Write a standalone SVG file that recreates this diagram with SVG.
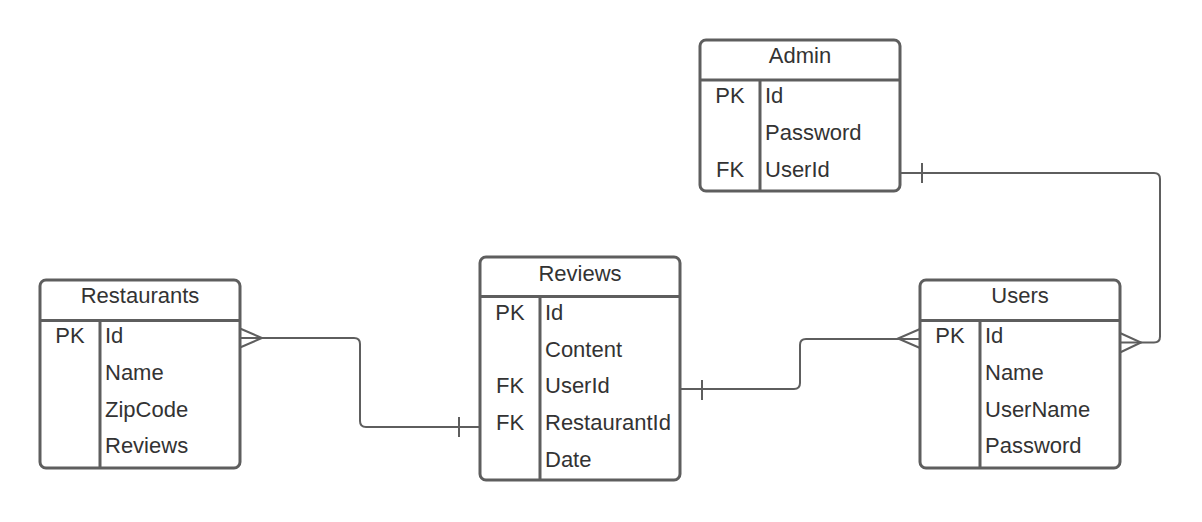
<svg xmlns="http://www.w3.org/2000/svg" width="1202" height="522" viewBox="0 0 1202 522">
<style>
.box{fill:#fff;stroke:#5e5e5e;stroke-width:3}
.ln{fill:none;stroke:#5e5e5e;stroke-width:3}
.cn{fill:none;stroke:#5e5e5e;stroke-width:2}
text{font-family:"Liberation Sans",Arial,sans-serif;font-size:22px;fill:#333}
.t{text-anchor:middle}
.k{text-anchor:middle}
</style>
<rect width="1202" height="522" fill="#fff"/>
<g id="connectors">
  <path class="cn" d="M240,338 H354 Q360,338 360,344 V421 Q360,427 366,427 H480"/>
  <path class="cn" d="M240,328.5 L262,338 L240,347.5"/>
  <path class="cn" d="M459,417 V437"/>
  <path class="cn" d="M680,389 H794 Q800,389 800,383 V345 Q800,339 806,339 H920"/>
  <path class="cn" d="M702,380 V400"/>
  <path class="cn" d="M920,329 L898,338.5 L920,348"/>
  <path class="cn" d="M900,173 H1154 Q1160,173 1160,179 V336.5 Q1160,342.5 1154,342.5 H1120"/>
  <path class="cn" d="M922,163 V183"/>
  <path class="cn" d="M1120,333 L1141,342.5 L1120,352.5"/>
</g>
<g id="admin">
  <rect class="box" x="700" y="40" width="200" height="151" rx="6"/>
  <path class="ln" d="M700,80 H900 M760,80 V191"/>
  <text class="t" x="800" y="63">Admin</text>
  <text class="k" x="730" y="103">PK</text>
  <text x="765" y="103">Id</text>
  <text x="765" y="140">Password</text>
  <text class="k" x="730" y="177">FK</text>
  <text x="765" y="177">UserId</text>
</g>
<g id="restaurants">
  <rect class="box" x="40" y="280" width="200" height="188" rx="6"/>
  <path class="ln" d="M40,320.5 H240 M100,320.5 V468"/>
  <text class="t" x="140" y="303">Restaurants</text>
  <text class="k" x="70" y="343">PK</text>
  <text x="105" y="343">Id</text>
  <text x="105" y="380">Name</text>
  <text x="105" y="417">ZipCode</text>
  <text x="105" y="453">Reviews</text>
</g>
<g id="reviews">
  <rect class="box" x="480" y="257" width="200" height="223" rx="6"/>
  <path class="ln" d="M480,296.5 H680 M540,296.5 V480"/>
  <text class="t" x="580" y="281">Reviews</text>
  <text class="k" x="510" y="320">PK</text>
  <text x="545" y="320">Id</text>
  <text x="545" y="357">Content</text>
  <text class="k" x="510" y="393">FK</text>
  <text x="545" y="393">UserId</text>
  <text class="k" x="510" y="430">FK</text>
  <text x="545" y="430">RestaurantId</text>
  <text x="545" y="467">Date</text>
</g>
<g id="users">
  <rect class="box" x="920" y="280" width="200" height="188" rx="6"/>
  <path class="ln" d="M920,320.5 H1120 M980,320.5 V468"/>
  <text class="t" x="1020" y="303">Users</text>
  <text class="k" x="950" y="343">PK</text>
  <text x="985" y="343">Id</text>
  <text x="985" y="380">Name</text>
  <text x="985" y="417">UserName</text>
  <text x="985" y="453">Password</text>
</g>
</svg>
